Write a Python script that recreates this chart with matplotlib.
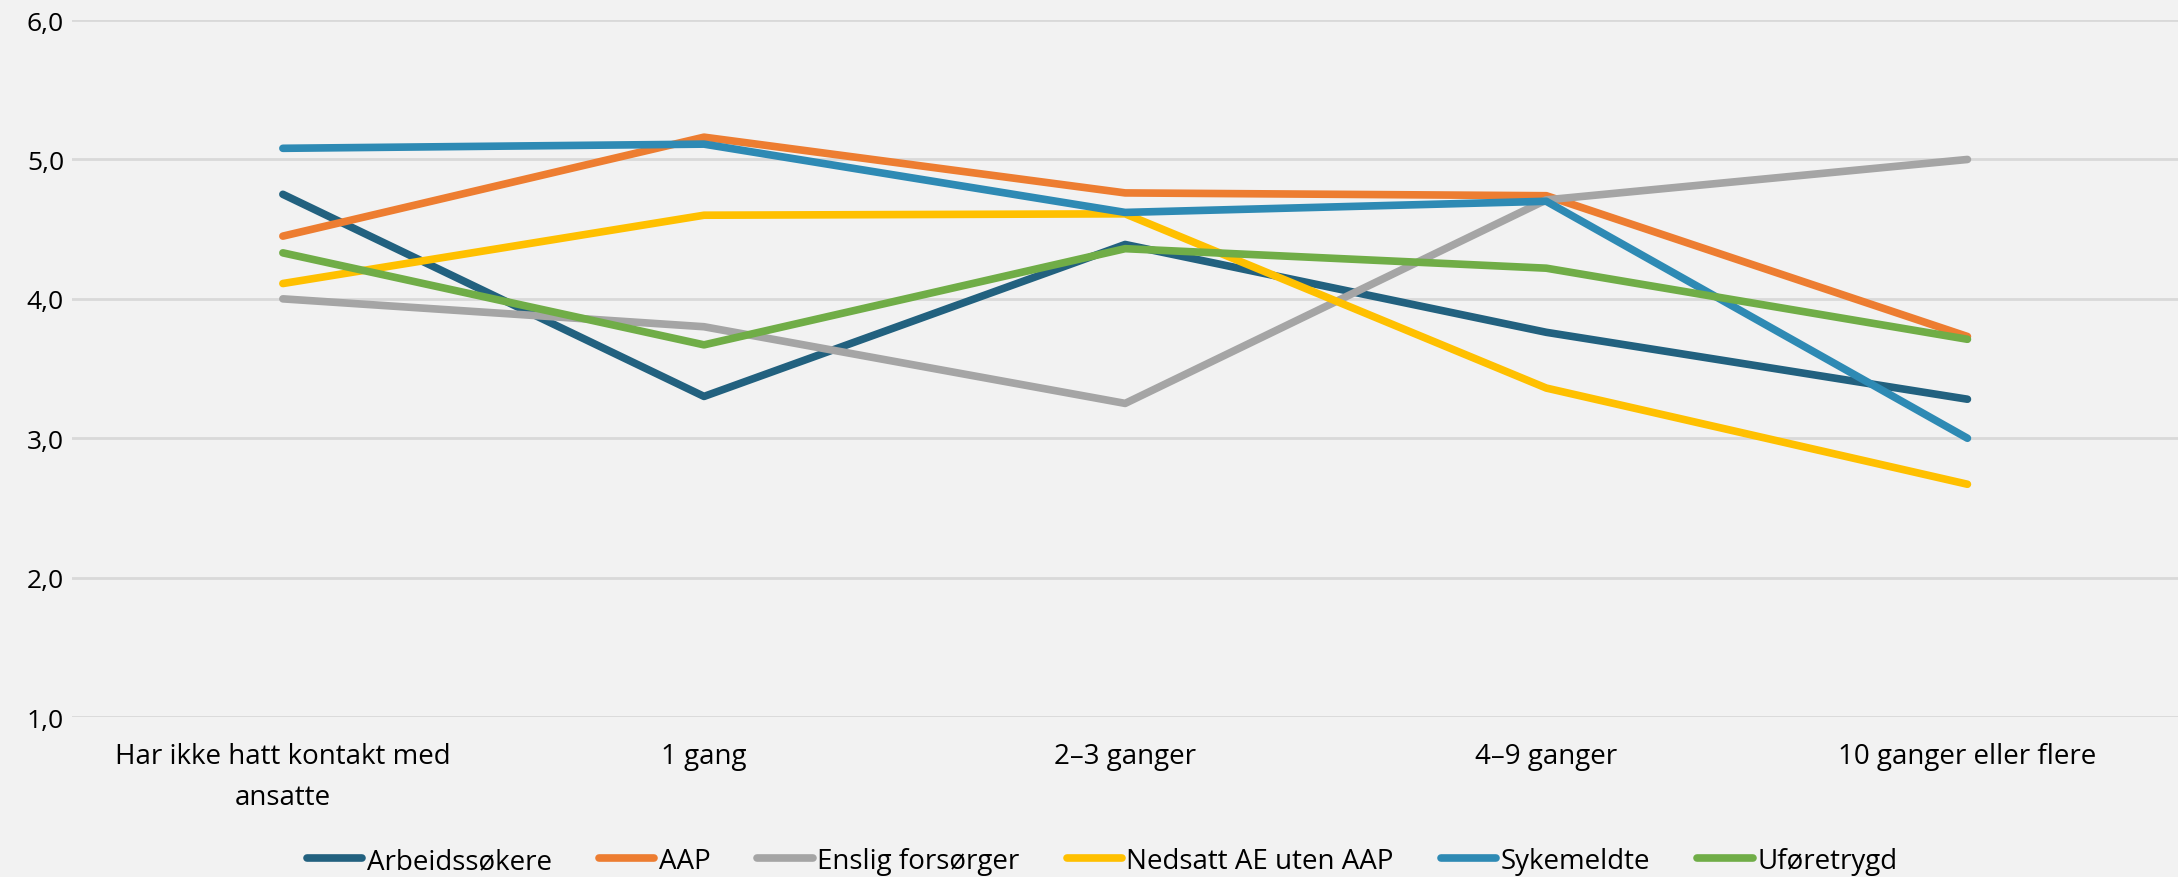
import matplotlib.pyplot as plt
from matplotlib.ticker import FixedLocator, FuncFormatter

categories = ["Har ikke hatt kontakt med\nansatte", "1 gang", "2\u20133 ganger",
              "4\u20139 ganger", "10 ganger eller flere"]

series_names = ["Arbeidss\u00f8kere", "AAP", "Enslig fors\u00f8rger",
                "Nedsatt AE uten AAP", "Sykemeldte", "Uf\u00f8retrygd"]

arbeidssokere = [4.75, 3.30, 4.39, 3.76, 3.28]
aap = [4.45, 5.16, 4.76, 4.74, 3.73]
enslig = [4.00, 3.80, 3.25, 4.71, 5.00]
nedsatt = [4.11, 4.60, 4.61, 3.36, 2.67]
sykemeldte = [5.08, 5.11, 4.62, 4.70, 3.00]
uforetrygd = [4.33, 3.67, 4.36, 4.22, 3.71]

colors = ["#22617F", "#ED7D31", "#A5A5A5", "#FFC000", "#2E8AB4", "#70AD47"]

BG = "#F2F2F2"
plt.rcParams["font.family"] = ["Open Sans", "DejaVu Sans"]

fig = plt.figure(figsize=(21.78, 8.78), dpi=100, facecolor=BG)
ax = fig.add_axes([0.0332, 0.1822, 0.9668, 0.7938], facecolor=BG)

x = list(range(len(categories)))
all_series = [arbeidssokere, aap, enslig, nedsatt, sykemeldte, uforetrygd]
for name, vals, c in zip(series_names, all_series, colors):
    ax.plot(x, vals, color=c, lw=5.5, solid_capstyle="round",
            solid_joinstyle="round", label=name, zorder=3)

ax.set_xlim(-0.5, len(categories) - 0.5)
ax.set_ylim(1.0, 6.0)
ax.yaxis.set_major_locator(FixedLocator([1, 2, 3, 4, 5, 6]))
ax.yaxis.set_major_formatter(FuncFormatter(lambda v, p: f"{v:.1f}".replace(".", ",")))
ax.grid(axis="y", color="#D9D9D9", lw=2, zorder=0)
ax.set_xticks(x)
ax.set_xticklabels(categories, fontsize=20, linespacing=1.6)
ax.tick_params(axis="both", length=0, colors="#000000")
ax.tick_params(axis="x", pad=18, labelsize=20)
ax.tick_params(axis="y", pad=6, labelsize=19)
for s in ax.spines.values():
    s.set_visible(False)

leg = fig.legend(loc="center", bbox_to_anchor=(0.506, 0.018), ncol=6,
                 frameon=False, fontsize=20, handlelength=2.0,
                 handletextpad=0.15, columnspacing=1.7)
for line in leg.get_lines():
    line.set_linewidth(5.5)

fig.savefig("out.png", dpi=100, facecolor=BG)
